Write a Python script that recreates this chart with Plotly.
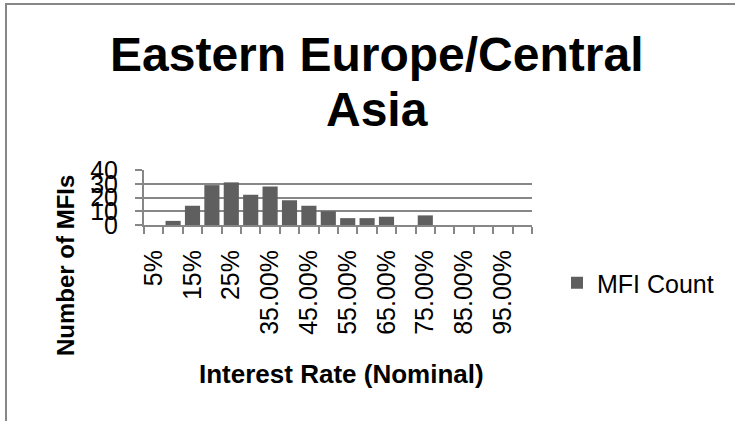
import plotly.graph_objects as go

# Nominal interest-rate buckets and the number of MFIs in each
rate_labels = ["5%", "10%", "15%", "20%", "25%", "30%", "35.00%", "40.00%",
               "45.00%", "50.00%", "55.00%", "60.00%", "65.00%", "70.00%",
               "75.00%", "80.00%", "85.00%", "90.00%", "95.00%", "100.00%"]
mfi_count = [0, 3, 14, 29, 31, 22, 28, 18, 14, 10, 5, 5, 6, 0, 7, 0, 0, 0, 0, 0]
y_ticks = [0, 10, 20, 30, 40]

chart_title_lines = ["Eastern Europe/Central", "Asia"]
x_title = "Interest Rate (Nominal)"
y_title = "Number of MFIs"
series_name = "MFI Count"

FONT = "Liberation Sans, Arial, sans-serif"
GRID = "#878787"
BAR = "#5f5f5f"

W, H = 735, 421
L, R, T, B = 144, 532, 170, 225  # plot-area edges in pixels
PW, PH = R - L, B - T


def px(xp):
    return (xp - L) / PW


def py(yp):
    return (B - yp) / PH


# every other bucket gets a visible label
shown_text = [lab if i % 2 == 0 else "" for i, lab in enumerate(rate_labels)]

fig = go.Figure()
fig.add_trace(go.Bar(
    x=rate_labels, y=mfi_count, name=series_name,
    marker=dict(color=BAR, line=dict(width=0)),
    showlegend=True,
))

fig.update_layout(
    width=W, height=H,
    margin=dict(l=L, r=W - R, t=T, b=H - B, pad=0),
    paper_bgcolor="white", plot_bgcolor="white",
    font=dict(family=FONT, color="black", size=25),
    bargap=0.22,
    showlegend=True,
    legend=dict(
        x=px(557), y=py(283), xanchor="left", yanchor="middle",
        font=dict(family=FONT, size=25, color="black"),
        bgcolor="rgba(0,0,0,0)", borderwidth=0,
        itemwidth=30,
    ),
    xaxis=dict(
        type="category", categoryorder="array", categoryarray=rate_labels,
        tickmode="array", tickvals=rate_labels, ticktext=shown_text,
        tickangle=-90, tickson="boundaries",
        ticks="outside", ticklen=7, tickwidth=2, tickcolor=GRID,
        showline=True, linecolor=GRID, linewidth=2,
        showgrid=False, zeroline=False,
        tickfont=dict(family=FONT, size=25, color="black"),
        ticklabelstandoff=13,
        automargin=False,
    ),
    yaxis=dict(
        range=[0, 40], tickmode="array", tickvals=y_ticks,
        ticks="outside", ticklen=7, tickwidth=2, tickcolor=GRID,
        showline=True, linecolor=GRID, linewidth=2,
        showgrid=True, gridcolor=GRID, gridwidth=2,
        zeroline=False,
        tickfont=dict(family=FONT, size=25, color="black"),
        ticklabelstandoff=12,
        automargin=False,
    ),
)

annotations = [
    dict(text=chart_title_lines[0], x=px(376.5), y=py(54.3),
         font=dict(family=FONT, size=48, color="black"), textangle=0),
    dict(text=chart_title_lines[1], x=px(376.5), y=py(109.3),
         font=dict(family=FONT, size=48, color="black"), textangle=0),
    dict(text=x_title, x=px(341), y=py(374),
         font=dict(family=FONT, size=26, color="black"), textangle=0),
    dict(text=y_title, x=px(65), y=py(266),
         font=dict(family=FONT, size=24, color="black"), textangle=-90),
]
for a in annotations:
    fig.add_annotation(
        text="<b>" + a["text"] + "</b>", x=a["x"], y=a["y"],
        xref="paper", yref="paper", xanchor="center", yanchor="middle",
        showarrow=False, font=a["font"], textangle=a["textangle"],
    )

# chart-area frame
fig.add_shape(type="rect", xref="paper", yref="paper",
              x0=px(6), x1=px(760), y0=py(4), y1=py(440),
              line=dict(color=GRID, width=2), fillcolor="rgba(0,0,0,0)",
              layer="below")

fig.write_html("out.html")
